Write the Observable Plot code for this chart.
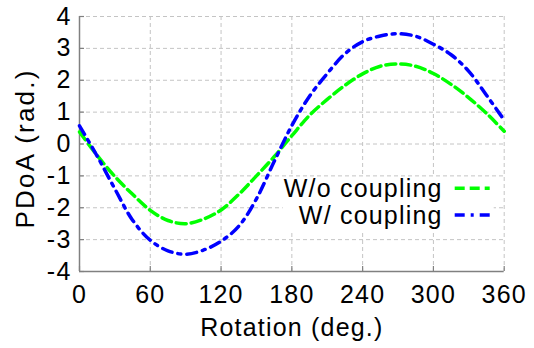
<!DOCTYPE html>
<html>
<head>
<meta charset="utf-8">
<script src="https://cdn.jsdelivr.net/npm/d3@7"></script>
<script src="https://cdn.jsdelivr.net/npm/@observablehq/plot@0.6"></script>
<style>
  html, body { margin: 0; padding: 0; background: white; }
  #chart { width: 534px; height: 348px; }
</style>
</head>
<body>
<div id="chart"></div>
<script>
// ---- data ----
const angles = [0, 15, 30, 45, 60, 75, 90, 105, 120, 135, 150, 165, 180, 195, 210, 225, 240, 255, 270, 285, 300, 315, 330, 345, 360];
const woCoupling = [0.38, -0.36, -1.02, -1.58, -2.08, -2.40, -2.50, -2.36, -2.07, -1.58, -1.00, -0.40, 0.26, 0.90, 1.40, 1.84, 2.20, 2.44, 2.51, 2.44, 2.21, 1.87, 1.45, 0.96, 0.40];
const wCoupling = [0.57, -0.38, -1.41, -2.39, -3.02, -3.35, -3.46, -3.33, -3.05, -2.58, -1.72, -0.55, 0.58, 1.50, 2.21, 2.83, 3.21, 3.39, 3.46, 3.38, 3.13, 2.80, 2.28, 1.53, 0.75];
const seriesNames = ["W/o coupling", "W/ coupling"];
const seriesColors = ["#00ff00", "#0000ff"];
const seriesDashes = ["10,5", "10,6,3,6"];
const xTicks = [0, 60, 120, 180, 240, 300, 360];
const yTicks = [-4, -3, -2, -1, 0, 1, 2, 3, 4];
const xLabel = "Rotation (deg.)";
const yLabel = "PDoA (rad.)";

const W = 534, H = 348;
const mL = 79, mR = 30.3, mT = 16, mB = 77;
const frameW = W - mL - mR, frameH = H - mT - mB;
const gridColor = "#c4c4c4";
const axisColor = "#808080";
const fs = 25;

function legendMark(index, scales, values, dimensions) {
  const d = dimensions || {};
  const width = d.width ?? W, marginRight = d.marginRight ?? mR, marginTop = d.marginTop ?? mT;
  const right = width - marginRight;
  const g = d3.create("svg:g");
  g.append("rect")
    .attr("x", right - 221).attr("y", marginTop + 161)
    .attr("width", 211).attr("height", 54)
    .attr("fill", "white");
  seriesNames.forEach((name, i) => {
    const y = marginTop + 172.3 + i * 26.7;
    g.append("text")
      .attr("x", right - 61).attr("y", y).attr("dy", "0.36em")
      .attr("text-anchor", "end").attr("fill", "black")
      .attr("font-size", fs)
      .text(name);
    g.append("line")
      .attr("x1", right - 49).attr("x2", right - 14)
      .attr("y1", y).attr("y2", y)
      .attr("stroke", seriesColors[i]).attr("stroke-width", 3.5)
      .attr("stroke-dasharray", seriesDashes[i]);
  });
  return g.node();
}

const chart = Plot.plot({
  width: W,
  height: H,
  marginLeft: mL,
  marginRight: mR,
  marginTop: mT,
  marginBottom: mB,
  style: {
    fontFamily: "'Liberation Sans', Arial, Helvetica, sans-serif",
    fontSize: fs + "px",
    letterSpacing: "1.2px",
    background: "white",
    color: "black",
    overflow: "visible"
  },
  x: { domain: [0, 360], axis: null },
  y: { domain: [-4, 4], axis: null },
  marks: [
    // grid
    Plot.ruleY(yTicks, { stroke: gridColor, strokeWidth: 1, strokeDasharray: "4,3" }),
    Plot.ruleX(xTicks, { stroke: gridColor, strokeWidth: 1, strokeDasharray: "4,3" }),
    // axis lines (left & bottom)
    Plot.ruleX([xTicks[0]], { stroke: axisColor, strokeWidth: 1.5 }),
    Plot.ruleY([yTicks[0]], { stroke: axisColor, strokeWidth: 1.5 }),
    // inward tick marks
    Plot.ruleX(xTicks, { stroke: axisColor, strokeWidth: 1.2, insetTop: frameH - 5 }),
    Plot.ruleY(yTicks, { stroke: axisColor, strokeWidth: 1.2, insetRight: frameW - 5 }),
    // tick labels
    Plot.text(xTicks, { x: d => d, text: d => String(d), frameAnchor: "bottom", lineAnchor: "top", dy: 14, fontSize: fs, fill: "black" }),
    Plot.text(yTicks, { y: d => d, text: d => String(d), frameAnchor: "left", textAnchor: "end", dx: -8, fontSize: fs, fill: "black" }),
    // axis titles
    Plot.text([xLabel], { text: d => d, frameAnchor: "bottom", textAnchor: "middle", lineAnchor: "bottom", dy: 64, fontSize: fs, fill: "black" }),
    Plot.text([yLabel], { text: d => d, frameAnchor: "left", textAnchor: "middle", rotate: -90, lineAnchor: "bottom", dx: -46, dy: 4.5, fontSize: 26, fill: "black", stroke: null, strokeWidth: 0 , title: null}),
    // series
    Plot.line(angles, { x: angles, y: woCoupling, stroke: seriesColors[0], strokeWidth: 3.5, strokeDasharray: seriesDashes[0], curve: "catmull-rom" }),
    Plot.line(angles, { x: angles, y: wCoupling, stroke: seriesColors[1], strokeWidth: 3.5, strokeDasharray: seriesDashes[1], curve: "catmull-rom" }),
    // legend
    legendMark
  ]
});
// slightly wider tracking on the rotated y title, as in the reference
d3.select(chart).selectAll("text").filter(function () { return this.textContent === yLabel; }).style("letter-spacing", "2.2px");
document.getElementById("chart").appendChild(chart);
</script>
</body>
</html>
